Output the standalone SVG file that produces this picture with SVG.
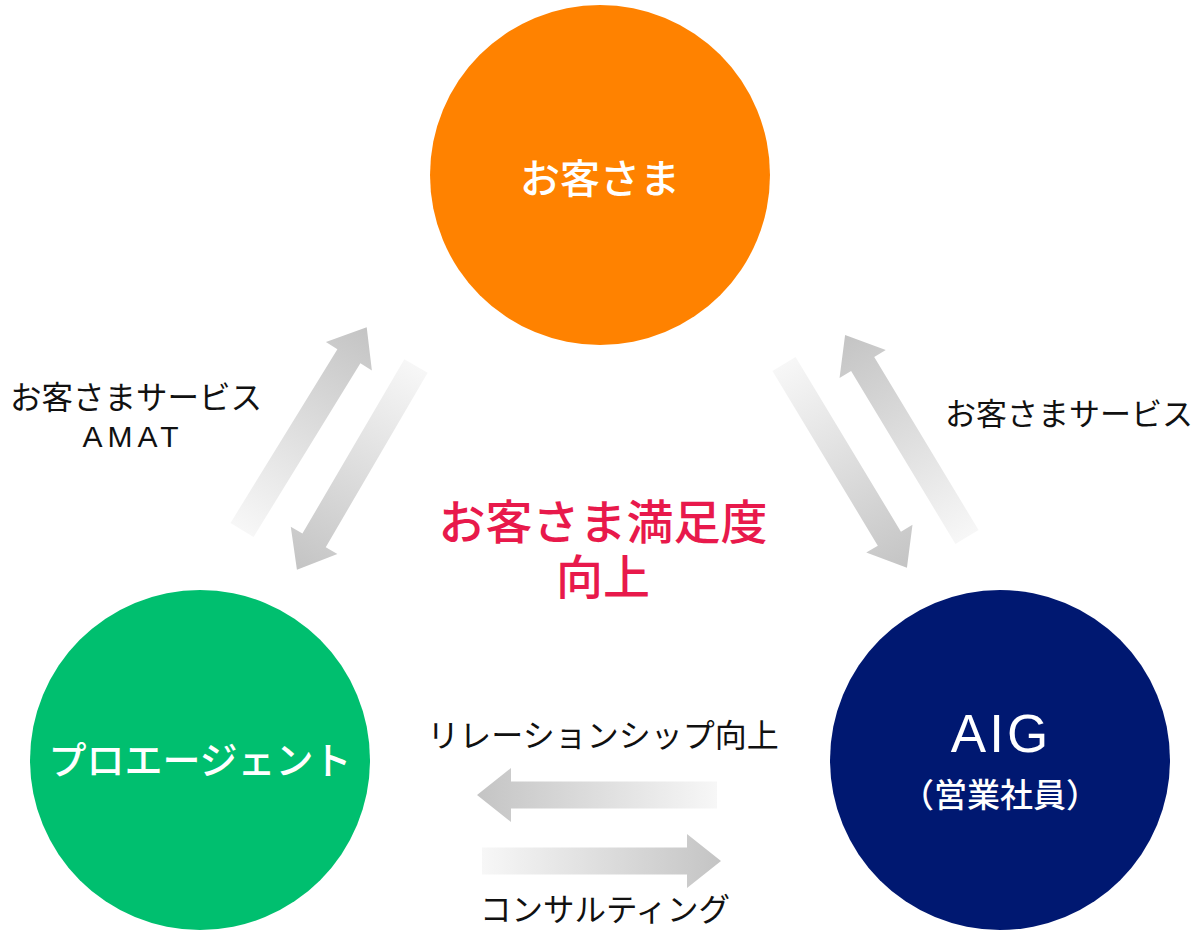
<svg xmlns="http://www.w3.org/2000/svg" width="1200" height="934" viewBox="0 0 1200 934">
<defs>
<linearGradient id="ag" x1="0" y1="0" x2="1" y2="0">
<stop offset="0" stop-color="#f7f7f7"/>
<stop offset="1" stop-color="#c4c4c4"/>
</linearGradient>
<style>
.lbl{font-family:"Noto Sans CJK JP","Noto Sans",sans-serif;fill:#111;text-anchor:middle}
.wt{font-family:"Noto Sans CJK JP","Noto Sans",sans-serif;fill:#fff;text-anchor:middle;font-weight:500}
.red{font-family:"Noto Sans CJK JP","Noto Sans",sans-serif;fill:#e8194b;text-anchor:middle;font-weight:500}
.arr{fill:url(#ag)}
</style>
</defs>
<rect width="1200" height="934" fill="#fff"/>
<g id="connectors">
<path class="arr" transform="translate(242,530) rotate(-58.4)" d="M0,-13.5 L204,-13.5 L204,-27 L238,0 L204,27 L204,13.5 L0,13.5 Z"/>
<path class="arr" transform="translate(416,366) rotate(120.3)" d="M0,-13.5 L202,-13.5 L202,-27 L236,0 L202,27 L202,13.5 L0,13.5 Z"/>
<path class="arr" transform="translate(784,364) rotate(58.9)" d="M0,-13.5 L204,-13.5 L204,-27 L238,0 L204,27 L204,13.5 L0,13.5 Z"/>
<path class="arr" transform="translate(967,537) rotate(-121.1)" d="M0,-13.5 L202,-13.5 L202,-27 L236,0 L202,27 L202,13.5 L0,13.5 Z"/>
<path class="arr" transform="translate(717,795) rotate(180)" d="M0,-13.5 L206,-13.5 L206,-27 L240,0 L206,27 L206,13.5 L0,13.5 Z"/>
<path class="arr" transform="translate(482,861)" d="M0,-13.5 L205,-13.5 L205,-27 L239,0 L205,27 L205,13.5 L0,13.5 Z"/>
</g>
<g id="customer">
<circle cx="600" cy="175" r="170" fill="#ff8200"/>
<text class="wt" x="600" y="193" font-size="40">お客さま</text>
</g>
<g id="proagent">
<circle cx="200" cy="760" r="170" fill="#00bf6f"/>
<text class="wt" x="200" y="774" font-size="38">プロエージェント</text>
</g>
<g id="aig">
<circle cx="1000" cy="760" r="170" fill="#001871"/>
<text class="wt" x="1001" y="752" font-size="53" style="font-family:'Liberation Sans',sans-serif;font-weight:400" letter-spacing="3">AIG</text>
<text class="wt" x="1000" y="807" font-size="33">（営業社員）</text>
</g>
<g id="center-label">
<text class="red" x="603" y="539" font-size="47">お客さま満足度</text>
<text class="red" x="603" y="594" font-size="47">向上</text>
</g>
<g id="labels">
<text class="lbl" x="136" y="409" font-size="31.5">お客さまサービス</text>
<text class="lbl" x="133" y="447" font-size="30" letter-spacing="5" style="font-family:'Liberation Sans',sans-serif">AMAT</text>
<text class="lbl" x="1069" y="425" font-size="31">お客さまサービス</text>
<text class="lbl" x="603" y="747" font-size="32">リレーションシップ向上</text>
<text class="lbl" x="605" y="921" font-size="31.5">コンサルティング</text>
</g>
</svg>
